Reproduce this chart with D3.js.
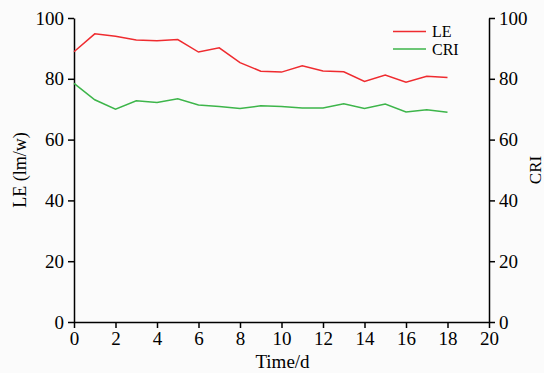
<!DOCTYPE html>
<html>
<head>
<meta charset="utf-8">
<script src="https://cdn.jsdelivr.net/npm/d3@7"></script>
<style>
  body { margin: 0; background: #fbfbfb; }
  svg { display: block; }
  svg text { font-family: "Liberation Serif", "Times New Roman", serif; fill: #000; }
</style>
</head>
<body>
<svg width="544" height="373"></svg>
<script>
// days measured
const days = [0, 1, 2, 3, 4, 5, 6, 7, 8, 9, 10, 11, 12, 13, 14, 15, 16, 17, 18];
// luminous efficacy (lm/w)
const leValues = [88.9, 94.8, 94.0, 92.8, 92.5, 92.9, 88.8, 90.2, 85.3, 82.5, 82.2, 84.3, 82.6, 82.3, 79.1, 81.2, 78.9, 80.8, 80.4];
// colour rendering index
const criValues = [78.5, 73.1, 70.0, 72.8, 72.2, 73.4, 71.4, 70.9, 70.2, 71.1, 70.9, 70.4, 70.4, 71.8, 70.2, 71.7, 69.1, 69.8, 69.0];
const xTicks = [0, 2, 4, 6, 8, 10, 12, 14, 16, 18, 20];
const yTicks = [0, 20, 40, 60, 80, 100];

const svg = d3.select('svg');
const plotL = 74, plotR = 489, plotT = 18, plotB = 322;

const x = d3.scaleLinear().domain([0, 20]).range([plotL, plotR]);
const yLeft = d3.scaleLinear().domain([0, 100]).range([plotB, plotT]);
const yRight = d3.scaleLinear().domain([0, 100]).range([plotB, plotT]);

function styleAxis(g) {
    g.attr('font-family', null);
    g.selectAll('path, line').attr('stroke', '#000').attr('stroke-width', 1.5);
    g.selectAll('text').attr('font-size', 19);
}

svg.append('g').attr('transform', `translate(0,${plotB})`)
    .call(d3.axisBottom(x).tickValues(xTicks).tickSize(6).tickSizeOuter(0).tickPadding(4))
    .call(styleAxis);

svg.append('g').attr('transform', `translate(${plotL},0)`)
    .call(d3.axisLeft(yLeft).tickValues(yTicks).tickSize(6).tickSizeOuter(0).tickPadding(4))
    .call(styleAxis);

svg.append('g').attr('transform', `translate(${plotR},0)`)
    .call(d3.axisRight(yRight).tickValues(yTicks).tickSize(6).tickSizeOuter(0).tickPadding(4))
    .call(styleAxis);

const leLine = d3.line().x((d, i) => x(days[i])).y(d => yLeft(d));
const criLine = d3.line().x((d, i) => x(days[i])).y(d => yRight(d));

svg.append('path').datum(leValues)
    .attr('d', leLine).attr('fill', 'none')
    .attr('stroke', '#ef2b2f').attr('stroke-width', 1.5);

svg.append('path').datum(criValues)
    .attr('d', criLine).attr('fill', 'none')
    .attr('stroke', '#3db54a').attr('stroke-width', 1.5);

// legend
const legend = [
    { name: 'LE', color: '#ef2b2f' },
    { name: 'CRI', color: '#3db54a' }
];
const lg = svg.append('g');
legend.forEach((d, i) => {
    const ly = 31.5 + i * 17.5;
    lg.append('line').attr('x1', 393).attr('x2', 426).attr('y1', ly).attr('y2', ly)
        .attr('stroke', d.color).attr('stroke-width', 1.5);
    lg.append('text').attr('x', 432).attr('y', ly).attr('dy', '0.35em')
        .attr('font-size', 16).text(d.name);
});

// axis titles
svg.append('text').attr('x', (plotL + plotR) / 2 + 1).attr('y', 368)
    .attr('text-anchor', 'middle').attr('font-size', 19).text('Time/d');

svg.append('text').attr('transform', `translate(26,${(plotT + plotB) / 2}) rotate(-90)`)
    .attr('text-anchor', 'middle').attr('font-size', 18).text('LE (lm/w)');

svg.append('text').attr('transform', `translate(541,${(plotT + plotB) / 2}) rotate(-90)`)
    .attr('text-anchor', 'middle').attr('font-size', 17).text('CRI');
</script>
</body>
</html>
